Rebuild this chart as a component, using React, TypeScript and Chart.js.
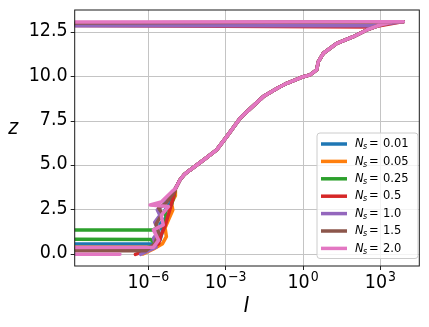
import React, { useEffect, useRef } from "react";
import { Chart, registerables } from "chart.js";

Chart.register(...registerables);

// log10(I) value the profiles drop to (far left of the visible axis)
const TINY = -12;

// Shared upper profile: log10(I) and z
const coreLogI = [-4.95, -4.77, -4.6, -4.38, -3.86, -3.35, -2.96, -2.44, -2.31, -1.54, -1.0, -0.63, 0.01, 0.27, 0.53, 0.59, 0.79, 1.31, 1.95, 2.47, 2.98, 3.5, 3.89];
const coreZ = [3.7, 4.2, 4.5, 4.75, 5.31, 5.88, 6.63, 7.66, 7.85, 8.88, 9.35, 9.63, 10.0, 10.1, 10.38, 10.84, 11.32, 11.88, 12.25, 12.63, 12.91, 13.09, 13.1];

// Lower (noisy) parts of each profile: [log10(I), z]
const lowNs001 = [[TINY, 0.59], [-5.75, 0.59], [-5.55, 0.8], [-5.45, 1.3], [-5.55, 1.7], [-5.3, 2.1], [-5.35, 2.5], [-5.15, 2.9], [-5.1, 3.3]];
const lowNs005 = [[TINY, 0.4], [-5.9, 0.4], [-6.2, 0.02], [-5.8, 0.3], [-5.45, 0.6], [-5.3, 1.0], [-5.35, 1.5], [-5.2, 2.0], [-5.05, 2.5], [-5.1, 2.9], [-4.95, 3.3]];
const lowNs025 = [[TINY, 0.3], [-6.2, 0.3], [-5.7, 0.55], [-5.9, 0.84], [TINY, 0.85], [TINY, 1.36], [-5.85, 1.37], [-5.45, 1.6], [-5.3, 2.0], [-5.35, 2.4], [-5.1, 2.8], [-5.0, 3.3]];
const lowNs05 = [[-6.5, 0.0], [-6.0, 0.25], [-5.6, 0.6], [-5.5, 1.1], [-5.35, 1.6], [-5.25, 2.1], [-5.15, 2.6], [-5.05, 3.1]];
const lowNs10 = [[-6.3, 0.0], [-5.7, 0.4], [-5.8, 0.9], [-5.6, 1.3], [-5.75, 1.8], [-5.55, 2.2], [-5.65, 2.5], [-5.4, 2.8], [-5.2, 3.2]];
const lowNs15 = [[TINY, 0.2], [-6.1, 0.2], [-5.75, 0.6], [-5.6, 1.2], [-5.7, 1.7], [-5.45, 2.3], [-5.6, 2.6], [-5.3, 2.9], [-5.05, 3.4]];
const lowNs20 = [[-7.1, 0.0], [TINY, 0.02], [TINY, 0.38], [-5.8, 0.4], [-5.6, 0.8], [-5.8, 1.38], [-5.42, 1.66], [-5.5, 2.2], [-5.22, 2.69], [-5.93, 2.78], [-5.5, 2.95], [-5.09, 3.53]];

// Top ends of each profile: [log10(I), z]
const topNs001 = [[TINY, 12.95]];
const topNs005 = [[TINY, 12.93]];
const topNs025 = [[TINY, 12.97]];
const topNs05 = [[2.7, 12.8], [TINY, 12.9]];
const topNs10 = [[2.7, 12.88], [TINY, 12.86]];
const topNs15 = [[TINY, 13.0]];
const topNs20 = [[TINY, 13.07]];

const nsLabels = ["0.01", "0.05", "0.25", "0.5", "1.0", "1.5", "2.0"];
const colors = ["#1f77b4", "#ff7f0e", "#2ca02c", "#d62728", "#9467bd", "#8c564b", "#e377c2"];
const lows = [lowNs001, lowNs005, lowNs025, lowNs05, lowNs10, lowNs15, lowNs20];
const tops = [topNs001, topNs005, topNs025, topNs05, topNs10, topNs15, topNs20];

const xTickExps = [-6, -3, 0, 3];
const yTickVals = [0, 2.5, 5, 7.5, 10, 12.5];

const FONT = "'DejaVu Sans', sans-serif";
const SY = 1.08;

function txt(ctx: CanvasRenderingContext2D, s: string, x: number, y: number, font: string, align: CanvasTextAlign, baseline: CanvasTextBaseline, sy = SY) {
  ctx.save();
  ctx.translate(x, y);
  ctx.scale(1, sy);
  ctx.font = font;
  ctx.textAlign = align;
  ctx.textBaseline = baseline;
  ctx.fillStyle = "#000";
  ctx.fillText(s, 0, 0);
  ctx.restore();
}

const decorPlugin = {
  id: "decor",
  afterDraw(chart: any) {
    const ctx: CanvasRenderingContext2D = chart.ctx;
    const { left, right, top, bottom } = chart.chartArea;
    const xs = chart.scales.x;
    const ys = chart.scales.y;

    // frame
    ctx.save();
    ctx.strokeStyle = "#1a1a1a";
    ctx.lineWidth = 1;
    ctx.strokeRect(left, top, right - left, bottom - top);
    ctx.restore();

    // y tick labels
    for (const v of yTickVals) {
      const py = ys.getPixelForValue(v);
      txt(ctx, v.toFixed(1), 67.7, py - 1, `17.5px ${FONT}`, "right", "middle");
    }
    // x tick labels 10^n
    for (const e of xTickExps) {
      const px = xs.getPixelForValue(Math.pow(10, e));
      const base = "10";
      const ex = e < 0 ? "\u2212" + Math.abs(e) : String(e);
      ctx.font = `17.5px ${FONT}`;
      const wb = ctx.measureText(base).width;
      ctx.font = `12.5px ${FONT}`;
      const we = ctx.measureText(ex).width;
      const x0 = px - (wb + we + 1) / 2;
      txt(ctx, base, x0, 288, `17.5px ${FONT}`, "left", "alphabetic");
      txt(ctx, ex, x0 + wb + 1, 281, `12.5px ${FONT}`, "left", "alphabetic");
    }
    // axis titles
    txt(ctx, "z", 13.3, 128.3, `italic 19px ${FONT}`, "center", "middle");
    txt(ctx, "I", 246.5, 306.7, `italic 19px ${FONT}`, "center", "middle");

    // legend
    const bx = 317, by = 133, bw = 101, bh = 125.5, r = 3;
    ctx.save();
    ctx.beginPath();
    ctx.moveTo(bx + r, by);
    ctx.lineTo(bx + bw - r, by);
    ctx.arcTo(bx + bw, by, bx + bw, by + r, r);
    ctx.lineTo(bx + bw, by + bh - r);
    ctx.arcTo(bx + bw, by + bh, bx + bw - r, by + bh, r);
    ctx.lineTo(bx + r, by + bh);
    ctx.arcTo(bx, by + bh, bx, by + bh - r, r);
    ctx.lineTo(bx, by + r);
    ctx.arcTo(bx, by, bx + r, by, r);
    ctx.closePath();
    ctx.fillStyle = "rgba(255,255,255,0.8)";
    ctx.fill();
    ctx.strokeStyle = "#cccccc";
    ctx.lineWidth = 1;
    ctx.stroke();
    ctx.restore();

    nsLabels.forEach((lab, i) => {
      const ry = 144 + i * 17.4;
      ctx.save();
      ctx.strokeStyle = colors[i];
      ctx.lineWidth = 3.5;
      ctx.beginPath();
      ctx.moveTo(321, ry);
      ctx.lineTo(347, ry);
      ctx.stroke();
      ctx.restore();
      ctx.font = `italic 11.5px ${FONT}`;
      const wN = ctx.measureText("N").width;
      txt(ctx, "N", 355, ry, `italic 11.5px ${FONT}`, "left", "middle", 1.05);
      txt(ctx, "s", 355 + wN - 0.5, ry + 3, `italic 8px ${FONT}`, "left", "middle", 1.05);
      txt(ctx, "=", 369, ry, `11.5px ${FONT}`, "left", "middle", 1.05);
      txt(ctx, lab, 383, ry, `11.5px ${FONT}`, "left", "middle", 1.05);
    });
  },
};

function buildPoints(i: number) {
  const pts: { x: number; y: number }[] = [];
  for (const [li, z] of lows[i]) pts.push({ x: Math.pow(10, li), y: z });
  coreLogI.forEach((li, k) => pts.push({ x: Math.pow(10, li), y: coreZ[k] }));
  for (const [li, z] of tops[i]) pts.push({ x: Math.pow(10, li), y: z });
  return pts;
}

export default function App() {
  const ref = useRef<HTMLCanvasElement | null>(null);
  useEffect(() => {
    document.body.style.margin = "0";
    const canvas = ref.current!;
    const datasets = nsLabels.map((lab, i) => ({
      label: "Ns = " + lab,
      data: buildPoints(i),
      showLine: true,
      borderColor: colors[i],
      backgroundColor: colors[i],
      borderWidth: 3.5,
      pointRadius: 0,
      tension: 0,
      fill: false,
      clip: 0,
      order: nsLabels.length - 1 - i,
      borderJoinStyle: "round" as const,
      borderCapStyle: "round" as const,
    }));
    const chart = new Chart(canvas, {
      type: "scatter",
      data: { datasets },
      options: {
        animation: false,
        responsive: false,
        maintainAspectRatio: false,
        devicePixelRatio: 1,
        layout: { padding: { left: 0, right: 9.7, top: 10, bottom: 0 } },
        plugins: { legend: { display: false }, tooltip: { enabled: false } },
        scales: {
          x: {
            type: "logarithmic",
            min: Math.pow(10, -8.855),
            max: Math.pow(10, 4.51),
            afterBuildTicks: (s: any) => {
              s.ticks = xTickExps.map((e) => ({ value: Math.pow(10, e) }));
            },
            afterFit: (s: any) => {
              s.height = 61;
              s.paddingLeft = 0;
              s.paddingRight = 0;
            },
            ticks: { callback: () => "", autoSkip: false, maxRotation: 0 },
            grid: { color: "#c4c4c4", lineWidth: 1, tickColor: "#222", tickLength: 4, drawTicks: true },
            border: { display: false },
          },
          y: {
            type: "linear",
            min: -0.655,
            max: 13.755,
            afterBuildTicks: (s: any) => {
              s.ticks = yTickVals.map((v) => ({ value: v }));
            },
            afterFit: (s: any) => {
              s.width = 74.7;
              s.paddingTop = 0;
              s.paddingBottom = 0;
            },
            ticks: { callback: () => "", autoSkip: false },
            grid: { color: "#c4c4c4", lineWidth: 1, tickColor: "#222", tickLength: 4, drawTicks: true },
            border: { display: false },
          },
        },
      },
      plugins: [decorPlugin],
    });
    return () => chart.destroy();
  }, []);
  return (
    <div style={{ width: 429, height: 327 }}>
      <canvas ref={ref} width={429} height={327} style={{ display: "block", width: 429, height: 327 }} />
    </div>
  );
}
